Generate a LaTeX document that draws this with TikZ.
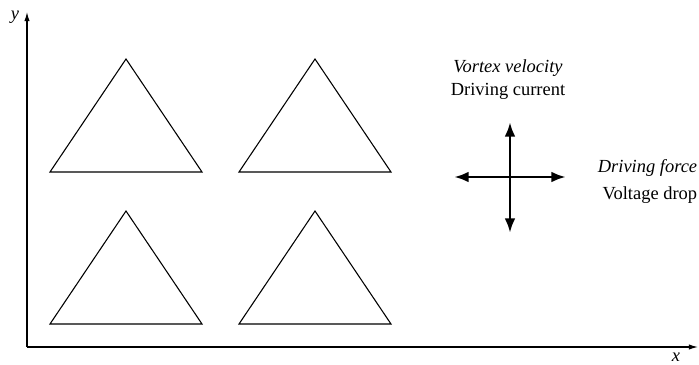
\documentclass[tikz,border=0pt]{standalone}
\usepackage{fontspec}
\setmainfont{Liberation Serif}
\usetikzlibrary{positioning, arrows.meta, calc}

\begin{document}
\begin{tikzpicture}[
    x=0.65pt, y=-0.65pt,
    axis/.style={-{Latex[length=6pt, width=3.5pt]}, line width=0.7pt},
    tri/.style={line width=0.7pt, line join=miter},
    drive/.style={-{Latex[length=9.5pt, width=7pt]}, line width=1.9pt},
    lbl/.style={font=\fontsize{12}{14}\selectfont, inner sep=1pt},
]
\useasboundingbox (0,0) rectangle (699,365);

% --- Axes ---
\coordinate (origin) at (27,347);
\coordinate (ytip) at (27,12);
\coordinate (xtip) at (698,347);
\draw[axis] (origin) -- (ytip);
\draw[axis] (origin) -- (xtip);
\node[lbl, font=\fontsize{12}{14}\selectfont\itshape] (ylab) at (15,17) {y};
\node[lbl, font=\fontsize{12}{14}\selectfont\itshape] (xlab) at (676,357) {x};

% --- Triangles, 2 x 2 ---
\foreach \cx/\cy in {126/59, 315/59, 126/211, 315/211}
    \draw[tri] (\cx,\cy) -- ++(76,113) -- ++(-152,0) -- cycle;

% --- Cross of driving directions ---
\coordinate (ctr) at (510,177);
\coordinate (up) at (510,122);
\coordinate (down) at (510,233);
\coordinate (left) at (454,177);
\coordinate (right) at (566,177);
\draw[drive] (ctr) -- (up);
\draw[drive] (ctr) -- (down);
\draw[drive] (ctr) -- (left);
\draw[drive] (ctr) -- (right);

% --- Labels ---
\node[lbl, font=\fontsize{12}{14}\selectfont\itshape] (vort) at (508,68) {Vortex velocity};
\node[lbl, below=2pt of vort] (curr) {Driving current};
\node[lbl, font=\fontsize{12}{14}\selectfont\itshape, anchor=east] (force) at (699,168) {Driving force};
\node[lbl, anchor=east] (volt) at (699,195) {Voltage drop};

\end{tikzpicture}
\end{document}
